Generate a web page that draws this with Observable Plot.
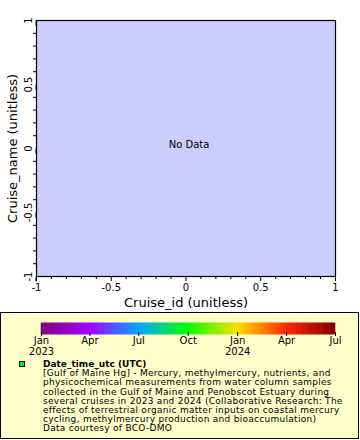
<!DOCTYPE html>
<html><head><meta charset="utf-8">
<script src="https://cdn.jsdelivr.net/npm/d3@7"></script>
<script src="https://cdn.jsdelivr.net/npm/@observablehq/plot@0.6"></script>
<style>
body{margin:0;background:#fff;width:360px;height:440px;position:relative;overflow:hidden;font-family:"DejaVu Sans",sans-serif;}
#main{position:absolute;left:0;top:0;}
#legend{position:absolute;left:0;top:312px;width:359px;height:127px;box-sizing:border-box;border:1px solid #000;background:#ffffcc;}
#cbar{position:absolute;left:0;top:322px;}
#swatch{position:absolute;left:19px;top:361px;width:4px;height:4px;border:1px solid #000;background:#00ff00;}
#ltext{position:absolute;left:43px;top:360px;color:#000;white-space:nowrap;}
#ltext div{font-size:9px;line-height:9.2px;height:9.2px;letter-spacing:0.28px;}
#ltext div.t{font-weight:bold;letter-spacing:0;}
</style>
</head><body>
<div id="main"></div>
<div id="legend"></div>
<div id="cbar"></div>
<div id="swatch"></div>
<div id="ltext"></div>
<script>
// ---- data ----
const xTicks = [-1, -0.5, 0, 0.5, 1];
const yTicks = [-1, -0.5, 0, 0.5, 1];
const minorTicks = [-0.9, -0.8, -0.7, -0.6, -0.4, -0.3, -0.2, -0.1, 0.1, 0.2, 0.3, 0.4, 0.6, 0.7, 0.8, 0.9];
const xLabel = "Cruise_id (unitless)";
const yLabel = "Cruise_name (unitless)";
const noDataText = ["No Data"];
const colorStops = ["2023-01-01", "2023-04-01", "2023-07-01", "2023-10-01", "2024-01-01", "2024-04-01", "2024-07-01"];
const colorStopColors = ["#800080", "#a400ff", "#00a6ff", "#00ff00", "#ffde00", "#ff2800", "#800000"];
const colorTicks = ["2023-01-01", "2023-04-01", "2023-07-01", "2023-10-01", "2024-01-01", "2024-04-01", "2024-07-01"];
const legendTitle = "Date_time_utc (UTC)";
const legendLines = [
  "[Gulf of Maine Hg] - Mercury, methylmercury, nutrients, and",
  "physicochemical measurements from water column samples",
  "collected in the Gulf of Maine and Penobscot Estuary during",
  "several cruises in 2023 and 2024 (Collaborative Research: The",
  "effects of terrestrial organic matter inputs on coastal mercury",
  "cycling, methylmercury production and bioaccumulation)",
  "Data courtesy of BCO-DMO"
];

const fmt = d => String(d);

const main = Plot.plot({
  width: 360, height: 310,
  marginLeft: 36, marginRight: 25, marginTop: 20, marginBottom: 34,
  style: {fontFamily: "DejaVu Sans", fontSize: "10px", background: "transparent", color: "#000"},
  x: {domain: [-1, 1]},
  y: {domain: [-1, 1]},
  marks: [
    Plot.frame({fill: "#ccccff", stroke: "none"}),
    Plot.axisX({ticks: minorTicks, tickSize: 3, text: null, label: null, stroke: "#000"}),
    Plot.axisY({ticks: minorTicks, tickSize: 3, text: null, label: null, stroke: "#000"}),
    Plot.axisX({ticks: xTicks, tickSize: 5, tickPadding: 2, tickFormat: fmt, fontSize: 10, label: null}),
    Plot.axisX({ticks: [], tickSize: 0, label: xLabel, labelAnchor: "center", labelArrow: "none", labelOffset: 30, fontSize: 13}),
    Plot.axisY({ticks: yTicks, tickSize: 5, tickPadding: 3, tickFormat: fmt, fontSize: 10,
      rotate: -90, textAnchor: "middle", label: null}),
    Plot.axisY({ticks: [], tickSize: 0, label: yLabel, labelAnchor: "center", labelArrow: "none", labelOffset: 29, fontSize: 13}),
    Plot.frame({stroke: "#000", strokeWidth: 1.2}),
    Plot.text(noDataText, {frameAnchor: "middle", dx: 3, dy: -4, fontSize: 10, fill: "#000"})
  ]
});
document.getElementById("main").append(main);

// colorbar
const t0 = new Date(colorStops[0]), t1 = new Date(colorStops[colorStops.length - 1]);
const days = d3.utcDay.range(t0, t1);
const cbar = Plot.plot({
  width: 360, height: 46,
  marginLeft: 41, marginRight: 25, marginTop: 1, marginBottom: 34,
  style: {fontFamily: "DejaVu Sans", fontSize: "10px", background: "transparent", color: "#000"},
  x: {type: "utc", domain: [t0, t1]},
  y: {domain: [0, 1], axis: null},
  color: {type: "linear", domain: colorStops.map(d => +new Date(d)), range: colorStopColors, interpolate: "rgb"},
  marks: [
    Plot.rect(days, {x1: d => d, x2: d => d3.utcDay.offset(d, 1), y1: 0, y2: 1, fill: d => +d, stroke: d => +d, strokeWidth: 0.6}),
    Plot.axisX({ticks: colorTicks.map(d => new Date(d)), tickSize: 4, tickPadding: 0, dy: -2, fontSize: 10, label: null,
      tickFormat: d => d3.utcFormat("%b")(d) + (d.getUTCMonth() === 0 ? "\n" + d.getUTCFullYear() : ""),
      lineHeight: 1.1})
  ]
});
document.getElementById("cbar").append(cbar);

const lt = document.getElementById("ltext");
[legendTitle, ...legendLines].forEach((s, i) => {
  const div = document.createElement("div");
  if (i === 0) div.className = "t";
  div.textContent = s;
  lt.append(div);
});
</script>
</body></html>
